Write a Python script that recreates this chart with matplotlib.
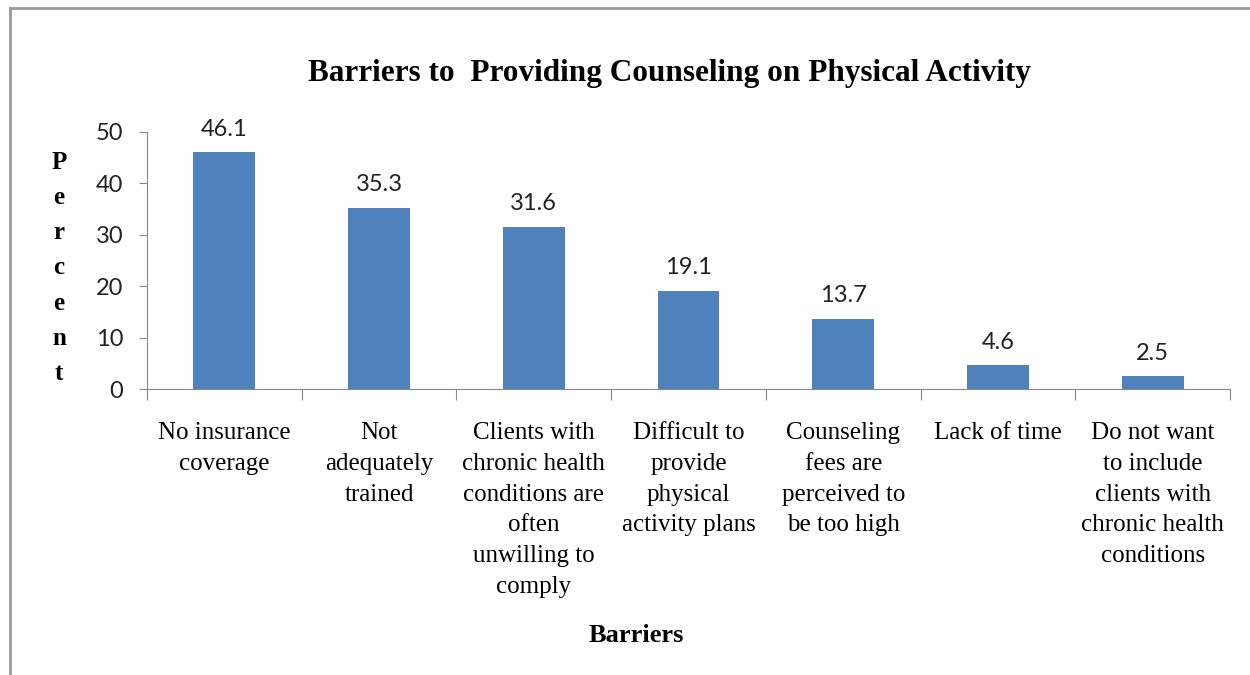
import matplotlib
matplotlib.use("Agg")
import matplotlib.pyplot as plt
from matplotlib.lines import Line2D

# data
categories = [
    "No insurance\ncoverage",
    "Not\nadequately\ntrained",
    "Clients with\nchronic health\nconditions are\noften\nunwilling to\ncomply",
    "Difficult to\nprovide\nphysical\nactivity plans",
    "Counseling\nfees are\nperceived to\nbe too high",
    "Lack of time",
    "Do not want\nto include\nclients with\nchronic health\nconditions",
]
percent = [46.1, 35.3, 31.6, 19.1, 13.7, 4.6, 2.5]
yticks = [0, 10, 20, 30, 40, 50]

serif = "Liberation Serif"
sans = "Lato"
bar_color = "#4F81BD"
axis_color = "#888888"

fig = plt.figure(figsize=(12.5, 6.75), dpi=100)
ax = fig.add_axes([147/1250, 1-389/675, (1230-147)/1250, (389-132)/675])

x = list(range(len(categories)))
ax.bar(x, percent, width=0.4, color=bar_color)
for xi, v in zip(x, percent):
    ax.annotate(f"{v:.1f}", (xi, v), xytext=(0, 9), textcoords="offset points",
                ha="center", va="bottom", fontsize=17, family=sans, color="#222222")

ax.set_xlim(-0.5, len(categories) - 0.5)
ax.set_ylim(0, 50)
ax.set_yticks(yticks)
ax.tick_params(axis="y", length=6, color=axis_color, labelsize=17,
               pad=11, labelcolor="#222222")
for lab in ax.get_yticklabels():
    lab.set_family(sans)

# category boundaries as major ticks, labels centred at minor ticks
ax.set_xticks([i - 0.5 for i in range(len(categories) + 1)])
ax.set_xticklabels([])
ax.set_xticks(x, minor=True)
ax.set_xticklabels(categories, minor=True, family=serif, fontsize=18, va="top")
for lab in ax.get_xticklabels(minor=True):
    lab.set_linespacing(1.51)
ax.tick_params(axis="x", which="major", length=8, color=axis_color)
ax.tick_params(axis="x", which="minor", length=0, pad=24)

for side in ["top", "right"]:
    ax.spines[side].set_visible(False)
for side in ["left", "bottom"]:
    ax.spines[side].set_color(axis_color)

fig.text(669/1250, 1-73/675, "Barriers to  Providing Counseling on Physical Activity",
         ha="center", va="center", family=serif, fontsize=22.5, fontweight="bold")
fig.text(636/1250, 1-636/675, "Barriers", ha="center", va="center",
         family=serif, fontsize=19, fontweight="bold")
fig.text(59/1250, 1-268/675, "\n".join("Percent"), ha="center", va="center",
         family=serif, fontsize=18, fontweight="bold", linespacing=1.67)

# outer chart border (only left and top visible in the reference)
fig.add_artist(Line2D([10/1250, 10/1250], [0, 1-8/675], color="#999999", lw=2))
fig.add_artist(Line2D([10/1250, 1], [1-8/675, 1-8/675], color="#999999", lw=2))

fig.savefig("out.png", dpi=100)
